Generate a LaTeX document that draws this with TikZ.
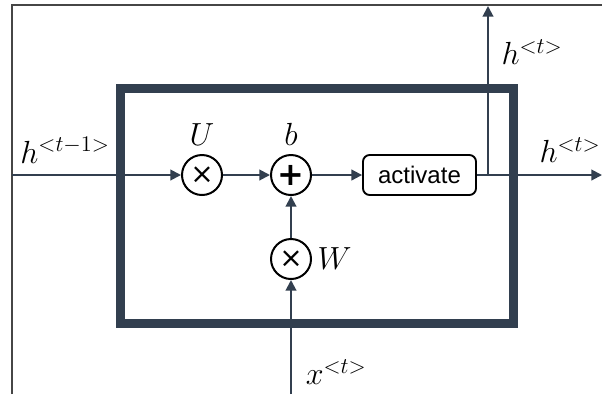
\RequirePackage{fix-cm}
\documentclass[tikz,border=0pt]{standalone}
\usepackage{fontspec}
\newfontfamily\boxsans{Liberation Sans}
\newfontfamily\opsans{DejaVu Sans}
\usetikzlibrary{arrows.meta,positioning}
\definecolor{slate}{RGB}{50,63,79}
\definecolor{frameline}{RGB}{70,70,70}

\begin{document}
\begin{tikzpicture}[
  x=0.75pt, y=-0.75pt,
  >={Triangle[length=8pt,width=8pt]},
  op/.style={circle, draw=black, line width=1.5pt, fill=white, minimum size=30pt,
    inner sep=0pt, font=\opsans\fontsize{21}{21}\selectfont},
  actbox/.style={rounded corners=5pt, draw=black, line width=1.4pt, fill=white,
    minimum width=84.75pt, minimum height=30pt, inner sep=0pt,
    font=\boxsans\fontsize{18}{18}\selectfont},
  flow/.style={->, line width=1.5pt, draw=slate},
  lab/.style={font=\fontsize{24}{26}\selectfont, inner sep=0pt}]

\useasboundingbox (0,0) rectangle (602,394);

% frame and cell
\draw[frameline, line width=0.8pt] (12,394) -- (12,5) -- (602,5);
\draw[slate, line width=6.75pt] (120.5,88.5) rectangle (513,323.5);

% operations
\node[op]     (mulU) at (202,175) {×};
\node[op, font=\opsans\bfseries\fontsize{24}{24}\selectfont] (add) at (291,175) {+};
\node[op]     (mulW) at (291,259) {×};
\node[actbox] (act)  at (419.5,175) {activate};

% free ends
\coordinate (hin)   at (12,175);
\coordinate (hout)  at (602,175);
\coordinate (split) at (488,175);
\coordinate (hup)   at (488,6);
\coordinate (xin)   at (291,394);

% connectors
\draw[flow] (hin) -- (mulU);
\draw[flow] (mulU) -- (add);
\draw[flow] (add) -- (act);
\draw[flow] (act) -- (hout);
\draw[flow] (split) -- (hup);
\draw[flow] (xin) -- (mulW);
\draw[flow] (mulW) -- (add);

% labels
\node[lab, above=6pt of mulU] (labU) {$U$};
\node[lab, above=6pt of add]  (labb) {$b$};
\node[lab, right=4pt of mulW] (labW) {$W$};
\node[lab] (labhprev) at (65,150)  {$h^{<t-1>}$};
\node[lab] (labhup)   at (532,52)  {$h^{<t>}$};
\node[lab] (labhout)  at (570,150) {$h^{<t>}$};
\node[lab] (labx)     at (336,372) {$x^{<t>}$};

\end{tikzpicture}
\end{document}
